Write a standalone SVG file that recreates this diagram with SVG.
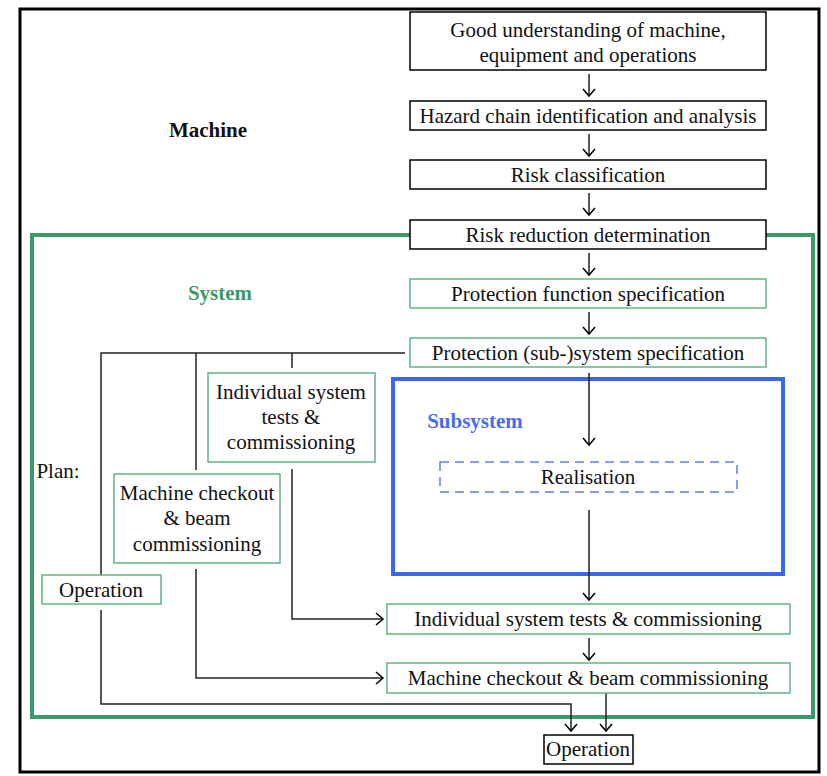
<svg xmlns="http://www.w3.org/2000/svg" width="827" height="776" viewBox="0 0 827 776">
<defs>
<marker id="arr" markerWidth="14" markerHeight="14" refX="12" refY="7" orient="auto" markerUnits="userSpaceOnUse" viewBox="0 0 14 14">
<polyline points="5,1 12,7 5,13" fill="none" stroke="#000" stroke-width="1.5"/>
</marker>
</defs>
<style>
text{font-family:"Liberation Serif","Times New Roman","DejaVu Serif",serif;font-size:21px;fill:#111;text-anchor:middle;dominant-baseline:central}
.b{fill:#fff;stroke:#000;stroke-width:1.5}
.g{fill:#fff;stroke:#5fb487;stroke-width:1.5}
.c{fill:none;stroke:#222;stroke-width:1.5}
.lbl{font-weight:bold}
</style>
<rect x="0" y="0" width="827" height="776" fill="#fff"/>
<rect id="frame" x="20" y="9" width="799" height="763" fill="none" stroke="#000" stroke-width="3"/>
<rect id="system-frame" x="32" y="235" width="781" height="482" fill="none" stroke="#3a9a68" stroke-width="4"/>
<rect id="subsystem-frame" x="393" y="379" width="390" height="195" fill="none" stroke="#3a66f5" stroke-width="4"/>
<text class="lbl" x="208" y="130">Machine</text>
<text class="lbl" x="220" y="293" style="fill:#3a9a68">System</text>
<text class="lbl" x="475" y="421" style="fill:#4a6cf0">Subsystem</text>
<text x="58" y="471">Plan:</text>
<g id="connectors">
<line class="c" x1="589" y1="74" x2="589" y2="96" marker-end="url(#arr)"/>
<line class="c" x1="589" y1="134" x2="589" y2="156" marker-end="url(#arr)"/>
<line class="c" x1="589" y1="193" x2="589" y2="215" marker-end="url(#arr)"/>
<line class="c" x1="589" y1="253" x2="589" y2="275" marker-end="url(#arr)"/>
<line class="c" x1="589" y1="312" x2="589" y2="334" marker-end="url(#arr)"/>
<polyline class="c" points="405,353 101,353 101,575"/>
<line class="c" x1="196" y1="353" x2="196" y2="470"/>
<line class="c" x1="292" y1="353" x2="292" y2="368"/>
<line class="c" x1="589" y1="373" x2="589" y2="445" marker-end="url(#arr)"/>
<line class="c" x1="589" y1="510" x2="589" y2="600" marker-end="url(#arr)"/>
<line class="c" x1="589" y1="638" x2="589" y2="660" marker-end="url(#arr)"/>
<polyline class="c" points="292,469 292,619 383,619" marker-end="url(#arr)"/>
<polyline class="c" points="196,569 196,678 383,678" marker-end="url(#arr)"/>
<polyline class="c" points="101,610 101,704 571,704 571,731" marker-end="url(#arr)"/>
<line class="c" x1="606" y1="693" x2="606" y2="731" marker-end="url(#arr)"/>
</g>
<g id="n1"><rect class="b" x="410" y="12" width="356" height="58"/><text x="588" y="30">Good understanding of machine,</text><text x="588" y="55">equipment and operations</text></g>
<g id="n2"><rect class="b" x="410" y="101" width="356" height="29"/><text x="588" y="116">Hazard chain identification and analysis</text></g>
<g id="n3"><rect class="b" x="410" y="160" width="356" height="29"/><text x="588" y="175">Risk classification</text></g>
<g id="n4"><rect class="b" x="410" y="220" width="356" height="29"/><text x="588" y="235">Risk reduction determination</text></g>
<g id="n5"><rect class="g" x="410" y="279" width="356" height="29"/><text x="588" y="294">Protection function specification</text></g>
<g id="n6"><rect class="g" x="410" y="338" width="356" height="29"/><text x="588" y="353">Protection (sub-)system specification</text></g>
<g id="n7"><rect class="g" x="208" y="373" width="167" height="89"/><text x="291" y="392">Individual system</text><text x="291" y="417">tests &amp;</text><text x="291" y="442">commissioning</text></g>
<g id="n8"><rect class="g" x="114" y="474" width="166" height="89"/><text x="197" y="493">Machine checkout</text><text x="197" y="518">&amp; beam</text><text x="197" y="544">commissioning</text></g>
<g id="n9"><rect class="g" x="42" y="575" width="119" height="29"/><text x="101" y="590">Operation</text></g>
<g id="n-real"><rect x="440" y="462" width="297" height="30" fill="#fff" stroke="#5a80f0" stroke-width="1.5" stroke-dasharray="9,6"/><text x="588" y="477">Realisation</text></g>
<g id="n10"><rect class="g" x="387" y="604" width="403" height="30"/><text x="588" y="619">Individual system tests &amp; commissioning</text></g>
<g id="n11"><rect class="g" x="387" y="663" width="403" height="30"/><text x="588" y="678">Machine checkout &amp; beam commissioning</text></g>
<g id="n12"><rect class="b" x="544" y="735" width="89" height="29"/><text x="588" y="749">Operation</text></g>
</svg>
